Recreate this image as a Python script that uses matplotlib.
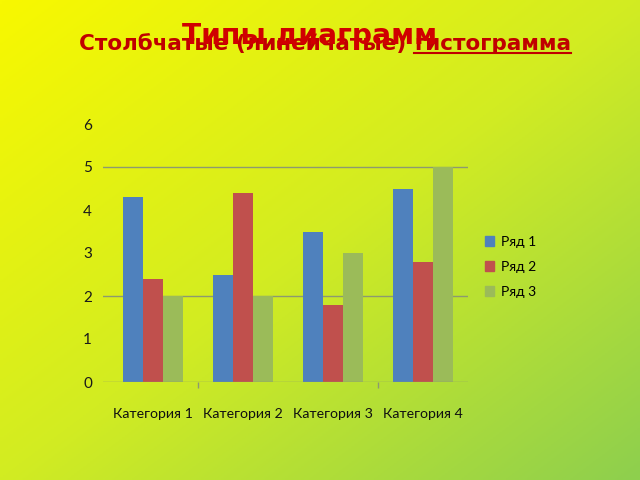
import numpy as np
import matplotlib
matplotlib.use("Agg")
import matplotlib.pyplot as plt
from matplotlib.colors import LinearSegmentedColormap
from matplotlib.patches import Patch

categories = ["Категория 1", "Категория 2", "Категория 3", "Категория 4"]
series_names = ["Ряд 1", "Ряд 2", "Ряд 3"]
row1 = [4.3, 2.5, 3.5, 4.5]
row2 = [2.4, 4.4, 1.8, 2.8]
row3 = [2.0, 2.0, 3.0, 5.0]
yticks = [0, 1, 2, 3, 4, 5, 6]
grid_values = [2, 5]

colors = ["#4F81BD", "#C0504D", "#9BBB59"]
label_font = ["Lato", "DejaVu Sans"]

fig = plt.figure(figsize=(6.4, 4.8), dpi=100)

# background gradient
bg = fig.add_axes([0, 0, 1, 1])
yy, xx = np.mgrid[0:1:200j, 0:1:200j]
t = (xx + yy) / 2.0
cmap = LinearSegmentedColormap.from_list("bg", ["#F8F800", "#D2EC22", "#8ECF4E"])
bg.imshow(t, cmap=cmap, extent=[0, 1, 0, 1], origin="upper", aspect="auto")
bg.set_axis_off()

W, H = 640.0, 480.0
left, right, bottom, top = 103, 468, 382, 124
ax = fig.add_axes([left / W, 1 - bottom / H, (right - left) / W, (bottom - top) / H])
ax.patch.set_alpha(0)

x = np.arange(len(categories))
bw = 0.222
for i, (vals, c, name) in enumerate(zip([row1, row2, row3], colors, series_names)):
    ax.bar(x + (i - 1) * bw, vals, width=bw, color=c, label=name, zorder=3)

ax.set_xlim(-0.555, 3.5)
ax.set_ylim(0, 6)
for g in grid_values:
    ax.axhline(g, color="#8C9A70", lw=1.0, zorder=1)
ax.axhline(0, color="#8C9A70", lw=1.0, zorder=4)

for s in ax.spines.values():
    s.set_visible(False)
ax.set_yticks(yticks)
ax.set_yticklabels([str(v) for v in yticks], fontsize=11, family=label_font, color="#1a1a1a")
ax.tick_params(axis="y", length=0, pad=8)
ax.set_xticks(x)
ax.set_xticklabels(categories, fontsize=10.2, family=label_font, color="#111111")
ax.tick_params(axis="x", length=0, pad=19)
ax.set_xticks([0.5, 2.5], minor=True)
ax.tick_params(axis="x", which="minor", length=4, color="#8C9A70", width=1)

handles = [Patch(color=c) for c in colors]
leg = fig.legend(handles, series_names, loc="center left", bbox_to_anchor=(472 / W, 1 - 267 / H),
                 frameon=False, prop={"family": label_font, "size": 10},
                 handlelength=0.7, handleheight=0.7, handletextpad=0.5, labelspacing=0.95)

# titles
sub1 = "Столбчатые (линейчатые) "
sub2 = "гистограмма"
red = "#C00000"
fig.canvas.draw()
r = fig.canvas.get_renderer()

# size the subtitle to span x=79..571 px
probe = fig.text(0, 0, sub1 + sub2, fontsize=10, fontweight="bold", family="DejaVu Sans")
pw = probe.get_window_extent(r).width
probe.remove()
fs = 10 * (571 - 79) / pw

t2 = fig.text(571 / W, 1 - 44 / H, sub2, ha="right", va="center", fontsize=fs,
              fontweight="bold", color=red, family="DejaVu Sans")
e2 = t2.get_window_extent(r)
t1 = fig.text(e2.x0 / W, 1 - 44 / H, sub1, ha="right", va="center", fontsize=fs,
              fontweight="bold", color=red, family="DejaVu Sans")
uy = (e2.y0 + 1) / H
fig.add_artist(plt.Line2D([e2.x0 / W, e2.x1 / W], [uy, uy], color=red, lw=1.5))

# main title spans x=183..437 px
probe = fig.text(0, 0, "Типы диаграмм", fontsize=10, fontweight="bold", family="DejaVu Sans")
pw = probe.get_window_extent(r).width
probe.remove()
fs2 = 10 * (437 - 183) / pw
fig.text(310 / W, 1 - 36 / H, "Типы диаграмм", ha="center", va="center", fontsize=fs2,
         fontweight="bold", color="#D00000", family="DejaVu Sans")

fig.savefig("out.png", dpi=100)
